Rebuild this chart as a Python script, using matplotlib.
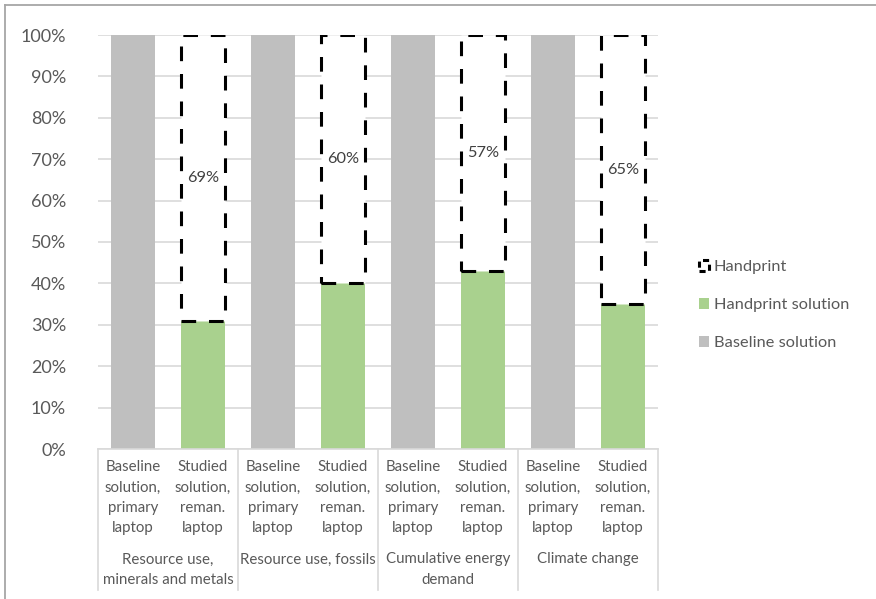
import numpy as np
import matplotlib
matplotlib.use("Agg")
import matplotlib.pyplot as plt
from matplotlib.lines import Line2D
from matplotlib.patches import Patch
from matplotlib.ticker import PercentFormatter

plt.rcParams["font.family"] = ["Lato", "DejaVu Sans"]

# data
groups = [
    "Resource use,\nminerals and metals",
    "Resource use, fossils",
    "Cumulative energy\ndemand",
    "Climate change",
]
bar_labels = ["Baseline\nsolution,\nprimary\nlaptop", "Studied\nsolution,\nreman.\nlaptop"]
baseline = [1.00, 1.00, 1.00, 1.00]
studied = [0.31, 0.40, 0.43, 0.35]
handprint = [0.69, 0.60, 0.57, 0.65]

GRAY = "#BFBFBF"
GREEN = "#A9D18E"
TXT = "#595959"
GRID = "#D9D9D9"

W, H = 876, 599
fig = plt.figure(figsize=(W / 100, H / 100), dpi=100)
ax = fig.add_axes([98 / W, (H - 449) / H, 560 / W, 414 / H])

n = len(groups)
x_base = np.arange(n) * 2
x_stud = x_base + 1
bw = 0.63

ax.bar(x_base, baseline, width=bw, color=GRAY, zorder=2)
ax.bar(x_stud, studied, width=bw, color=GREEN, zorder=2)
ax.bar(x_stud, handprint, bottom=studied, width=bw, facecolor="white",
       edgecolor="black", linewidth=2.2, linestyle=(0, (4.8, 4.2)), zorder=3)

for xs, b, h in zip(x_stud, studied, handprint):
    ax.text(xs, b + h / 2, f"{round(h * 100)}%", ha="center", va="center",
            fontsize=11.8, color="#404040", zorder=4)

ax.set_xlim(-0.5, 2 * n - 0.5)
ax.set_ylim(0, 1)
ax.set_yticks(np.arange(0, 1.01, 0.1))
ax.yaxis.set_major_formatter(PercentFormatter(1.0, decimals=0))
ax.tick_params(axis="y", length=0, pad=23, labelsize=13, labelcolor=TXT)
ax.set_xticks([])
ax.grid(axis="y", color=GRID, linewidth=1.2, zorder=0)
for s in ["left", "right", "top"]:
    ax.spines[s].set_visible(False)
ax.spines["bottom"].set_color(GRID)
ax.spines["bottom"].set_linewidth(1.2)

# two-level category axis
tr = ax.get_xaxis_transform()
for xb, xs in zip(x_base, x_stud):
    ax.text(xb, -0.027, bar_labels[0], transform=tr, ha="center", va="top",
            fontsize=10.8, color=TXT, linespacing=1.58)
    ax.text(xs, -0.027, bar_labels[1], transform=tr, ha="center", va="top",
            fontsize=10.8, color=TXT, linespacing=1.58)
for xb, g in zip(x_base, groups):
    ax.text(xb + 0.5, -0.25, g, transform=tr, ha="center", va="top",
            fontsize=10.8, color=TXT, linespacing=1.58)
for xv in np.arange(-0.5, 2 * n, 2):
    ax.add_line(Line2D([xv, xv], [0, -0.34], transform=tr, color=GRID,
                       linewidth=1.2, clip_on=False))

# legend
handles = [
    Patch(facecolor="none", edgecolor="black", linewidth=2.2, linestyle=(0, (2, 1.5))),
    Patch(facecolor=GREEN, edgecolor="none"),
    Patch(facecolor=GRAY, edgecolor="none"),
]
labels = ["Handprint", "Handprint solution", "Baseline solution"]
fig.legend(handles, labels, loc="center left", bbox_to_anchor=(684 / W, 1 - 305 / H),
           frameon=False, fontsize=11.8, labelcolor=TXT, handlelength=0.65,
           handleheight=0.65, handletextpad=0.25, labelspacing=1.45)

# outer chart border
fig.add_artist(Line2D([5 / W, 5 / W], [0, 1 - 5 / H], color="#A6A6A6", linewidth=1.3))
fig.add_artist(Line2D([5 / W, 1], [1 - 5 / H, 1 - 5 / H], color="#A6A6A6", linewidth=1.3))

fig.savefig("out.png", dpi=100)
